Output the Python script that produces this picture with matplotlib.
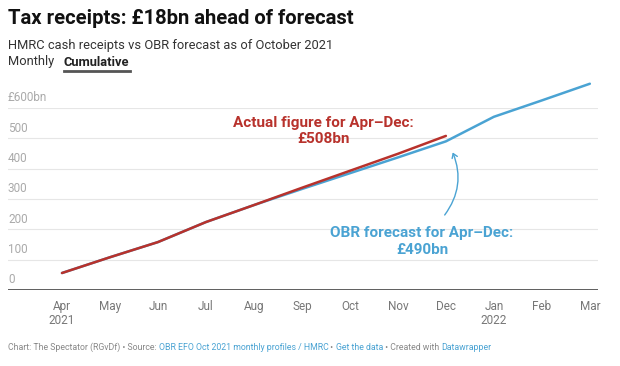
import matplotlib.pyplot as plt
from matplotlib.patches import FancyArrowPatch

plt.rcParams['font.family'] = ['Roboto', 'DejaVu Sans']

months = ['Apr\n2021', 'May', 'Jun', 'Jul', 'Aug', 'Sep', 'Oct', 'Nov', 'Dec',
          'Jan\n2022', 'Feb', 'Mar']
actual = [56, 108, 158, 224, 280, 337, 393, 449, 508]
forecast = [56, 108, 158, 224, 280, 333, 385, 437, 490, 571, 625, 680]
yticks = [0, 100, 200, 300, 400, 500, 600]
ylabels = ['0', '100', '200', '300', '400', '500', '£600bn']

RED = '#b8322c'
BLUE = '#4aa3d3'
GREY = '#888888'

fig = plt.figure(figsize=(6.2, 3.66), dpi=100)
ax = fig.add_axes([8 / 620, 1 - 290 / 366, 590 / 620, 182 / 366])

x_all = list(range(len(forecast)))
ax.plot(x_all, forecast, color=BLUE, lw=1.8, solid_capstyle='round', zorder=3, clip_on=False)
ax.plot(x_all[:len(actual)], actual, color=RED, lw=1.8, solid_capstyle='round', zorder=4,
        clip_on=False)

ax.set_xlim(-1.125, 11.17)
ax.set_ylim(0, 600)

# gridlines + labels sitting above them
for v, lab in zip(yticks, ylabels):
    if v == 0:
        ax.axhline(v, color='#333333', lw=1.1, zorder=2)
    else:
        ax.axhline(v, color='#e6e6e6', lw=0.8, zorder=1)
    ax.text(-1.125, v + 12, lab, color='#aaaaaa', fontsize=8.5, va='bottom', ha='left')

ax.set_yticks([])
ax.set_xticks(x_all)
ax.set_xticklabels(months, color='#777777', fontsize=8.5, linespacing=1.15)
ax.tick_params(axis='x', length=0, pad=7)
for s in ax.spines.values():
    s.set_visible(False)

# annotations
ax.text(5.45, 523, 'Actual figure for Apr\u2013Dec:\n£508bn', color=RED,
        fontsize=11, fontweight='bold', ha='center', va='center', linespacing=1.2)
ax.text(7.5, 160, 'OBR forecast for Apr\u2013Dec:\n£490bn', color=BLUE,
        fontsize=11, fontweight='bold', ha='center', va='center', linespacing=1.2)
arrow = FancyArrowPatch((7.94, 240), (8.12, 462), connectionstyle='arc3,rad=0.3',
                        arrowstyle='->,head_length=3,head_width=2', color=BLUE, lw=1)
ax.add_patch(arrow)

# header
fig.text(8 / 620, 1 - 18 / 366, 'Tax receipts: £18bn ahead of forecast',
         fontsize=14.6, fontweight='bold', va='center', ha='left', color='#111111')
fig.text(8 / 620, 1 - 46 / 366, 'HMRC cash receipts vs OBR forecast as of October 2021',
         fontsize=9.3, va='center', ha='left', color='#333333')
fig.text(8 / 620, 1 - 62 / 366, 'Monthly', fontsize=9.3, va='center', ha='left', color='#333333')
fig.text(64 / 620, 1 - 62 / 366, 'Cumulative', fontsize=9.3, fontweight='bold',
         va='center', ha='left', color='#222222')
fig.add_artist(plt.Line2D([64 / 620, 130 / 620], [1 - 70.5 / 366] * 2,
                          color='#555555', lw=2))

# footer with coloured links
pieces = [('Chart: The Spectator (RGvDf) \u2022 Source: ', GREY),
          ('OBR EFO Oct 2021 monthly profiles / HMRC', BLUE),
          (' \u2022 ', GREY), ('Get the data', BLUE),
          (' \u2022 Created with ', GREY), ('Datawrapper', BLUE)]
fig.canvas.draw()
r = fig.canvas.get_renderer()
xpos = 8
for txt, col in pieces:
    t = fig.text(xpos / 620, 1 - 347 / 366, txt, fontsize=6.3, color=col,
                 va='center', ha='left')
    xpos += t.get_window_extent(renderer=r).width

fig.savefig('out.png', dpi=100)
